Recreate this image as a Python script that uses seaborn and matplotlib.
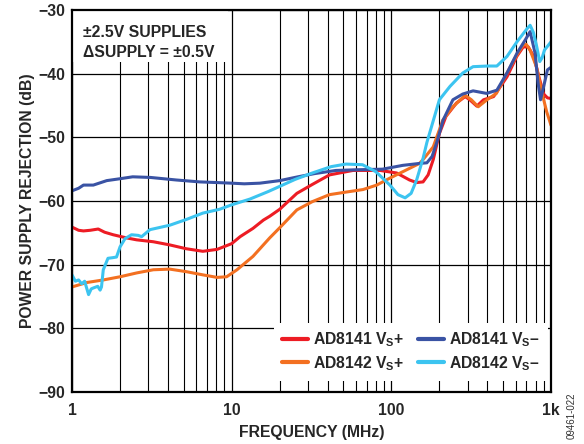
import matplotlib
matplotlib.use('Agg')
import matplotlib.pyplot as plt
import matplotlib.ticker as mticker
from matplotlib.patches import Rectangle
import seaborn as sns
import pandas as pd

# series (frequency in MHz, PSR in dB)
f_41_pos = [1, 1.1, 1.18, 1.3, 1.46, 1.6, 1.81, 2.2, 2.54, 3.23, 4.1, 5.2, 6.6, 8.1, 10, 11.3,
            13.6, 15.8, 17.3, 20, 25.6, 32, 41, 57.5, 85, 108, 130, 144, 158, 170, 183, 200,
            220, 256, 290, 310, 343, 378, 437, 530, 610, 670, 720, 780, 840, 900, 950, 1000]
db_41_pos = [-64.1, -64.6, -64.7, -64.6, -64.4, -64.9, -65.3, -65.8, -66.1, -66.4, -66.9, -67.5,
             -67.9, -67.6, -66.7, -65.6, -64.3, -63.0, -62.4, -61.3, -58.8, -57.4, -55.9, -55.2,
             -55.2, -55.6, -56.7, -57.1, -57.0, -55.9, -53.5, -49.4, -46.7, -44.6, -43.6, -44.1,
             -45.1, -44.1, -43.6, -40.5, -37.3, -35.8, -35.8, -37.3, -40.5, -43.2, -43.8, -43.9]

f_42_pos = [1, 1.24, 1.57, 2.0, 2.54, 3.23, 4.1, 5.2, 6.6, 8.1, 9.3, 10.8, 13.6, 17.3, 20, 25.6,
            32, 41, 52, 66.5, 81, 98, 118, 150, 158, 183, 200, 210, 243, 290, 317, 350, 397, 455,
            530, 610, 670, 700, 740, 810, 880, 940, 1000]
db_42_pos = [-73.5, -72.8, -72.4, -71.9, -71.3, -70.8, -70.7, -71.1, -71.6, -72.0, -71.9, -70.8,
             -68.7, -65.8, -64.2, -61.4, -60.1, -59.0, -58.6, -58.2, -57.5, -56.4, -55.4, -54.1,
             -53.5, -51.5, -48.8, -47.3, -45.2, -43.4, -44.1, -45.2, -44.1, -43.1, -39.9, -37.1,
             -35.5, -35.4, -36.3, -38.9, -43.1, -46.0, -48.1]

f_41_neg = [1, 1.1, 1.18, 1.36, 1.65, 2.0, 2.4, 3.1, 4.5, 6.3, 8, 10, 12, 15, 20, 26, 33, 45, 60,
            88, 118, 150, 167, 180, 192, 211, 243, 280, 325, 395, 458, 530, 612, 690, 740, 795,
            830, 860, 900, 950, 1000]
db_41_neg = [-58.4, -58.0, -57.5, -57.5, -56.8, -56.5, -56.2, -56.3, -56.7, -57.0, -57.1, -57.2,
             -57.3, -57.2, -56.8, -56.2, -55.7, -55.2, -55.1, -55.0, -54.4, -54.1, -54.0, -53.0,
             -50.9, -47.3, -44.1, -43.2, -42.7, -43.1, -42.6, -39.9, -36.8, -34.7, -33.4, -36.8,
             -41.5, -44.1, -42.0, -39.4, -39.0]

f_42_neg = [1, 1.05, 1.1, 1.15, 1.2, 1.27, 1.32, 1.38, 1.45, 1.5, 1.53, 1.57, 1.68, 1.8, 1.9, 2.0,
            2.15, 2.36, 2.6, 2.73, 3.08, 4.1, 5.2, 6.6, 8.4, 10, 13, 17, 20, 25, 32, 42, 52, 66,
            80, 98, 110, 122, 133, 144, 158, 167, 200, 233, 280, 325, 400, 458, 530, 612, 710,
            740, 775, 810, 850, 880, 910, 1000]
db_42_neg = [-71.6, -72.6, -72.4, -73.0, -72.6, -74.7, -73.8, -73.6, -73.4, -74.0, -73.5, -70.8,
             -69.0, -68.9, -68.8, -67.2, -65.9, -65.3, -65.4, -65.6, -64.5, -63.8, -62.9, -61.9,
             -61.3, -60.6, -59.7, -58.5, -57.7, -56.6, -55.6, -54.6, -54.2, -54.3, -55.4, -57.5,
             -59.0, -59.5, -58.8, -56.7, -53.3, -50.8, -44.1, -42.0, -39.9, -38.9, -38.8, -38.8,
             -37.3, -35.0, -32.9, -32.4, -33.5, -35.5, -38.1, -37.5, -36.3, -35.0]

labels = [r'AD8141 V$_\mathrm{S}$+', r'AD8142 V$_\mathrm{S}$+',
          r'AD8141 V$_\mathrm{S}$–', r'AD8142 V$_\mathrm{S}$–']
colors = ['#ED1C24', '#F37021', '#3A53A4', '#3CC4F0']

x_ticks = [1, 10, 100, 1000]
x_ticklabels = ['1', '10', '100', '1k']
y_ticks = [-90, -80, -70, -60, -50, -40, -30]

frames = []
for lab, f, db in zip(labels, [f_41_pos, f_42_pos, f_41_neg, f_42_neg],
                      [db_41_pos, db_42_pos, db_41_neg, db_42_neg]):
    frames.append(pd.DataFrame({'freq': f, 'psr': db, 'series': lab}))
df = pd.concat(frames, ignore_index=True)

sns.set_style('white')
plt.rcParams['font.family'] = ['Liberation Sans', 'DejaVu Sans']
plt.rcParams['font.weight'] = 'bold'
plt.rcParams['axes.labelweight'] = 'bold'
plt.rcParams['mathtext.fontset'] = 'custom'
plt.rcParams['mathtext.rm'] = 'Liberation Sans:bold'
plt.rcParams['mathtext.default'] = 'rm'

FS = 11.3

fig = plt.figure(figsize=(5.84, 4.44), dpi=100)
ax = fig.add_axes([72 / 584, 52 / 444, 479 / 584, 382 / 444])

sns.lineplot(data=df, x='freq', y='psr', hue='series', hue_order=labels,
             palette=dict(zip(labels, colors)), estimator=None, sort=False,
             linewidth=2.2, ax=ax)

ax.set_xscale('log')
ax.set_xlim(1, 1000)
ax.set_ylim(-90, -30)
ax.set_xticks(x_ticks, x_ticklabels)
ax.xaxis.set_minor_locator(mticker.LogLocator(base=10, subs=range(2, 10)))
ax.xaxis.set_minor_formatter(mticker.NullFormatter())
ax.set_yticks(y_ticks)
ax.tick_params(axis='both', which='both', length=0, labelsize=FS)
ax.tick_params(axis='x', pad=8)
ax.tick_params(axis='y', pad=5)

ax.set_axisbelow(True)
ax.grid(True, which='major', axis='both', color='black', linewidth=0.9)
ax.grid(True, which='minor', axis='x', color='black', linewidth=0.8)
for s in ax.spines.values():
    s.set_color('black')
    s.set_linewidth(1.6)

ax.set_xlabel('FREQUENCY (MHz)', fontsize=FS, labelpad=5)
ax.set_ylabel('POWER SUPPLY REJECTION (dB)', fontsize=FS, labelpad=2)

# white area behind the annotation
ax.add_patch(Rectangle((0, 0.864), 0.326, 0.136, transform=ax.transAxes,
                       facecolor='white', edgecolor='none', zorder=1))
ax.text(0.023, 0.962, '±2.5V SUPPLIES\nΔSUPPLY = ±0.5V', transform=ax.transAxes,
        fontsize=FS, fontweight='bold', va='top', ha='left', linespacing=1.42, zorder=3)

handles, labs = ax.get_legend_handles_labels()
leg = ax.legend(handles, labs, ncol=2, loc='lower right', bbox_to_anchor=(0.994, 0.03),
                frameon=True, fancybox=False, framealpha=1, facecolor='white',
                edgecolor='none', fontsize=FS, handlelength=1.65, handletextpad=0.32,
                columnspacing=0.9, labelspacing=0.3, borderpad=0.5, borderaxespad=0)
for line in leg.get_lines():
    line.set_linewidth(3)

fig.text(572 / 584, 1 - 416 / 444, '09461-022', rotation=90, fontsize=7,
         fontweight='normal', color='#333333', ha='center', va='center')

fig.savefig('out.png', dpi=100)
